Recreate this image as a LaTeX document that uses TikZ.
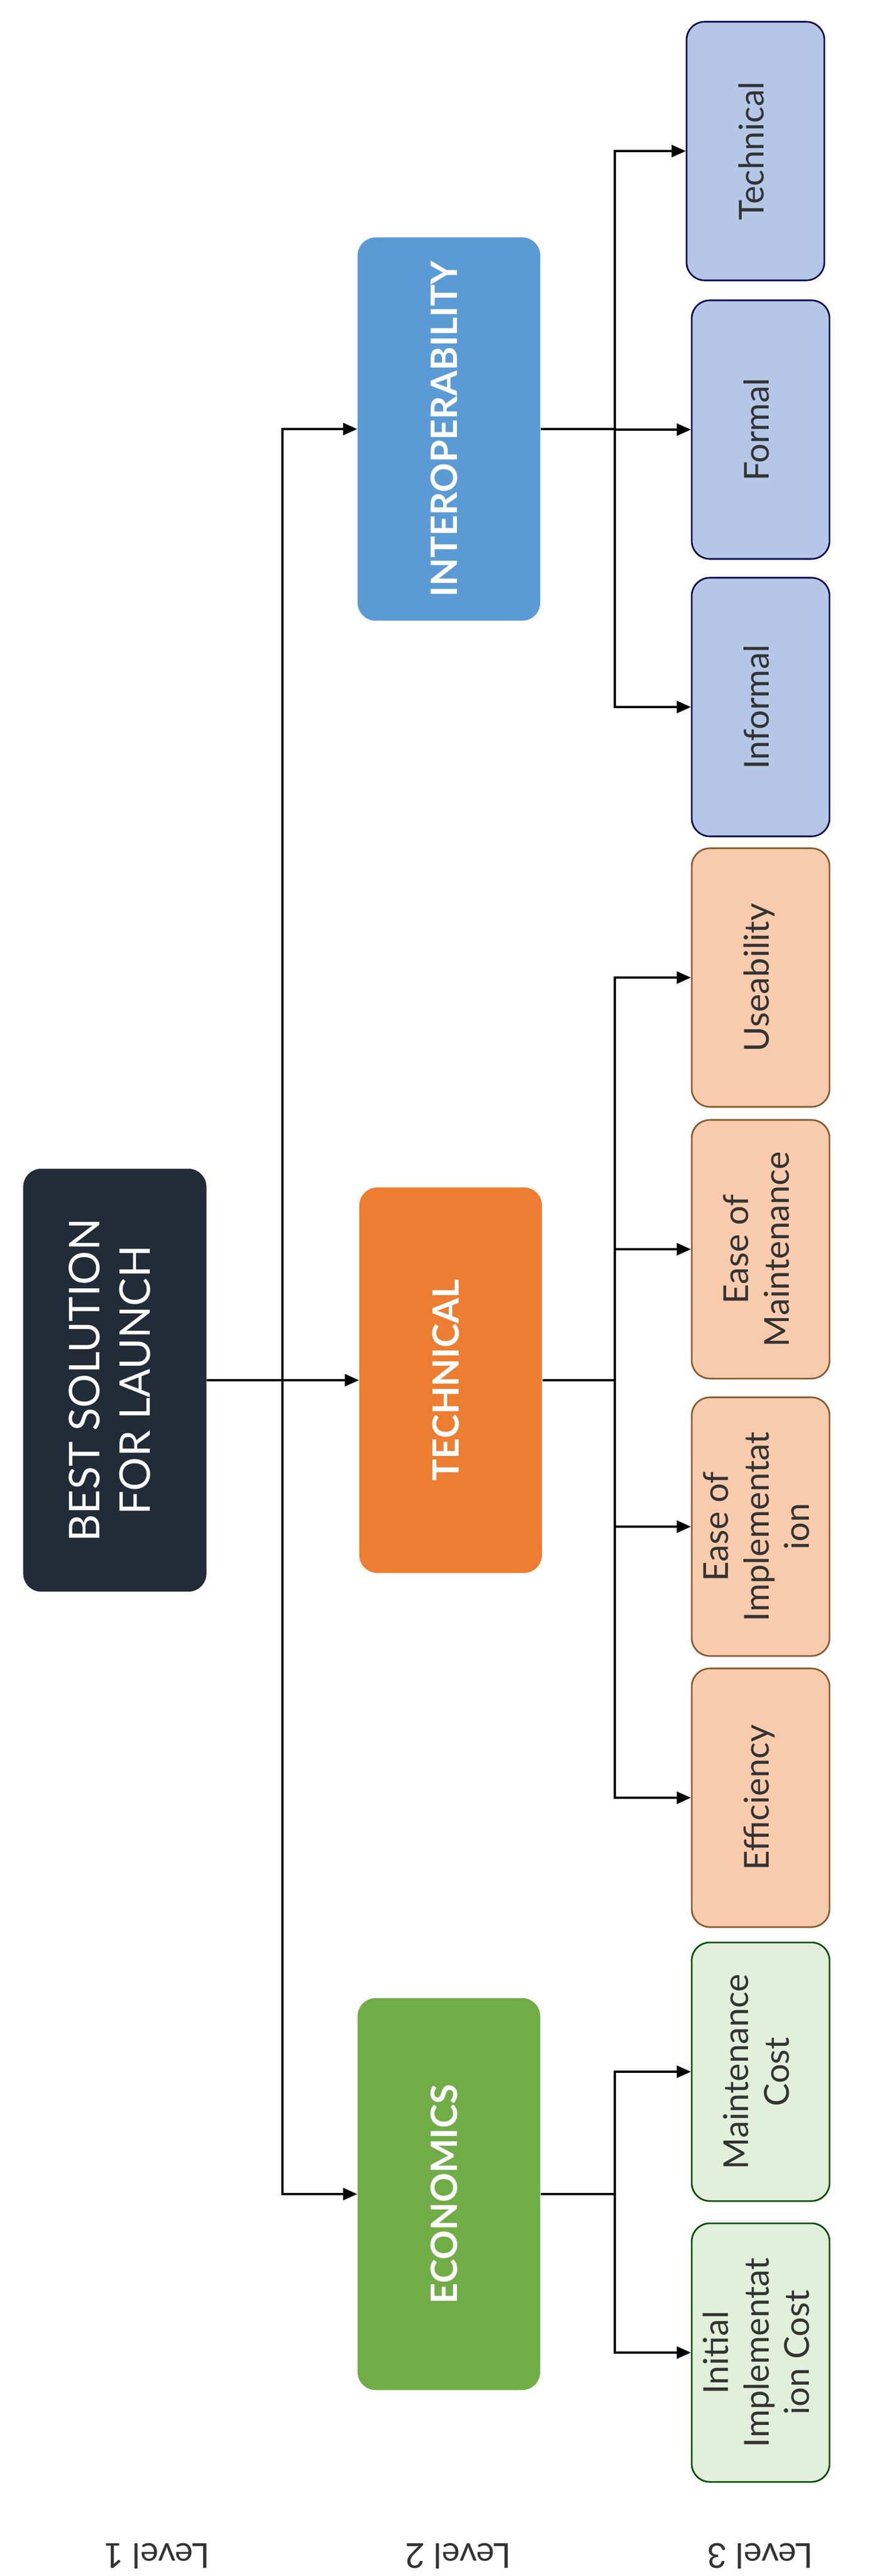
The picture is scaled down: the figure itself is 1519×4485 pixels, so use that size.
\documentclass[tikz,border=0pt]{standalone}
\usepackage{fontspec}
\setmainfont{Lato}
\usepackage{tikz}
\usetikzlibrary{arrows.meta, positioning}
\definecolor{navy}{HTML}{222B38}
\definecolor{techorange}{HTML}{ED7D31}
\definecolor{interblue}{HTML}{5B9BD5}
\definecolor{ecogreen}{HTML}{70AD47}
\definecolor{paleblue}{HTML}{B4C7E7}
\definecolor{palepeach}{HTML}{F8CBAD}
\definecolor{palegreen}{HTML}{E2EFDA}
\tikzstyle{arrow} = [line width=0.9pt,-{Triangle[length=7pt,width=6pt]}]
\tikzstyle{line} = [line width=0.9pt]
\tikzstyle{main} = [rounded corners=9pt, inner sep=0pt, minimum width=3.18cm, text=white, font=\fontsize{18}{21}\selectfont\bfseries]
\tikzstyle{leaf} = [rounded corners=9pt, inner sep=0pt, line width=0.8pt, minimum width=2.4cm, minimum height=4.5cm, text=black!80, font=\fontsize{17}{20}\selectfont]
\newcommand{\up}[1]{\rotatebox{90}{\begin{tabular}{c}#1\end{tabular}}}

\begin{document}
\begin{tikzpicture}[x=0.01cm, y=-0.01cm]
        \useasboundingbox (0,0) rectangle (1519,4485);

        % Level 1
        \node[main, fill=navy, minimum width=3.19cm, minimum height=7.36cm, font=\fontsize{21}{25}\selectfont] (root) at (200,2403) {\up{BEST SOLUTION\\FOR LAUNCH}};

        % Level 2
        \node[main, fill=interblue, minimum height=6.67cm] (interop) at (782,747) {\up{INTEROPERABILITY}};
        \node[main, fill=techorange, minimum height=6.71cm] (tech) at (785,2403) {\up{TECHNICAL}};
        \node[main, fill=ecogreen, minimum height=6.82cm] (econ) at (782,3820) {\up{ECONOMICS}};

        % Level 3
        \node[leaf, draw=blue!30!black, fill=paleblue] (itech) at (1316,263) {\up{Technical}};
        \node[leaf, draw=blue!30!black, fill=paleblue] (iformal) at (1325,748) {\up{Formal}};
        \node[leaf, draw=blue!30!black, fill=paleblue] (iinformal) at (1325,1231) {\up{Informal}};
        \node[leaf, draw=brown!70!black, fill=palepeach] (tuse) at (1325,1702) {\up{Useability}};
        \node[leaf, draw=brown!70!black, fill=palepeach] (tmaint) at (1325,2175) {\up{Ease of\\Maintenance}};
        \node[leaf, draw=brown!70!black, fill=palepeach] (timpl) at (1325,2658) {\up{Ease of\\Implementat\\ion}};
        \node[leaf, draw=brown!70!black, fill=palepeach] (teff) at (1325,3130) {\up{Efficiency}};
        \node[leaf, draw=green!30!black, fill=palegreen] (emaint) at (1325,3607) {\up{Maintenance\\Cost}};
        \node[leaf, draw=green!30!black, fill=palegreen] (einit) at (1325,4096) {\up{Initial\\Implementat\\ion Cost}};

        % Level labels
        \node[font=\fontsize{17}{20}\selectfont, text=black!80] (lvla) at (273,4450) {\rotatebox{180}{Level 1}};
        \node[font=\fontsize{17}{20}\selectfont, text=black!80] (lvlb) at (798,4450) {\rotatebox{180}{Level 2}};
        \node[font=\fontsize{17}{20}\selectfont, text=black!80] (lvlc) at (1324,4450) {\rotatebox{180}{Level 3}};

        % Connectors
        \coordinate (trunk) at (492,2403);
        \draw[arrow] (root.east) -- (tech.west);
        \draw[arrow] (trunk) |- (interop.west);
        \draw[arrow] (trunk) |- (econ.west);

        \coordinate (busi) at (1071,747);
        \coordinate (bust) at (1071,2403);
        \coordinate (buse) at (1071,3820);
        \draw[line] (interop.east) -- (busi);
        \draw[line] (tech.east) -- (bust);
        \draw[line] (econ.east) -- (buse);
        \foreach \leaf in {itech, iformal, iinformal}
            \draw[arrow] (busi) |- (\leaf.west);
        \foreach \leaf in {tuse, tmaint, timpl, teff}
            \draw[arrow] (bust) |- (\leaf.west);
        \foreach \leaf in {emaint, einit}
            \draw[arrow] (buse) |- (\leaf.west);
    \end{tikzpicture}
\end{document}
